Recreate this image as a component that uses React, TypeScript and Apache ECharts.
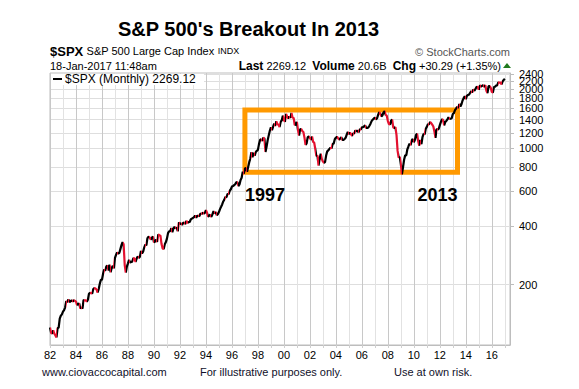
import React, { useEffect, useRef } from "react";
import * as echarts from "echarts";

const START_YEAR = 1982;

// Monthly closes of $SPX, Jan 1982 .. Jan 2017
const spxMonthlyCloses: number[] = [
  // 1982
  120.4, 113.11, 111.96, 116.44, 111.88, 109.61, 107.09, 119.51, 120.42, 133.71, 138.54, 140.64,
  // 1983
  145.3, 148.06, 152.96, 164.42, 162.39, 168.11, 162.56, 164.4, 166.07, 163.55, 166.4, 164.93,
  // 1984
  163.41, 157.06, 159.18, 160.05, 150.55, 153.18, 150.66, 166.68, 166.1, 166.09, 163.58, 167.24,
  // 1985
  179.63, 181.18, 180.66, 179.83, 189.55, 191.85, 190.92, 188.63, 182.08, 189.82, 202.17, 211.28,
  // 1986
  211.78, 226.92, 238.9, 235.52, 247.35, 250.84, 236.12, 252.93, 231.32, 243.98, 249.22, 242.17,
  // 1987
  274.08, 284.2, 291.7, 288.36, 290.1, 304.0, 318.66, 329.8, 321.83, 251.79, 230.3, 247.08,
  // 1988
  257.07, 267.82, 258.89, 261.33, 262.16, 273.5, 272.02, 261.52, 271.91, 278.97, 273.7, 277.72,
  // 1989
  297.47, 288.86, 294.87, 309.64, 320.52, 317.98, 346.08, 351.45, 349.15, 340.36, 345.99, 353.4,
  // 1990
  329.08, 331.89, 339.94, 330.8, 361.23, 358.02, 356.15, 322.56, 306.05, 304.0, 322.22, 330.22,
  // 1991
  343.93, 367.07, 375.22, 375.35, 389.83, 371.16, 387.81, 395.43, 387.86, 392.46, 375.22, 417.09,
  // 1992
  408.79, 412.7, 403.69, 414.95, 415.35, 408.14, 424.21, 414.03, 417.8, 418.68, 431.35, 435.71,
  // 1993
  438.78, 443.38, 451.67, 440.19, 450.19, 450.53, 448.13, 463.56, 458.93, 467.83, 461.79, 466.45,
  // 1994
  481.61, 467.14, 445.77, 450.91, 456.5, 444.27, 458.26, 475.49, 462.69, 472.35, 453.69, 459.27,
  // 1995
  470.42, 487.39, 500.71, 514.71, 533.4, 544.75, 562.06, 561.88, 584.41, 581.5, 605.37, 615.93,
  // 1996
  636.02, 640.43, 645.5, 654.17, 669.12, 670.63, 639.95, 651.99, 687.33, 705.27, 757.02, 740.74,
  // 1997
  786.16, 790.82, 757.12, 801.34, 848.28, 885.14, 954.29, 899.47, 947.28, 914.62, 955.4, 970.43,
  // 1998
  980.28, 1049.34, 1101.75, 1111.75, 1090.82, 1133.84, 1120.67, 957.28, 1017.01, 1098.67, 1163.63, 1229.23,
  // 1999
  1279.64, 1238.33, 1286.37, 1335.18, 1301.84, 1372.71, 1328.72, 1320.41, 1282.71, 1362.93, 1388.91, 1469.25,
  // 2000
  1394.46, 1366.42, 1498.58, 1452.43, 1420.6, 1454.6, 1430.83, 1517.68, 1436.51, 1429.4, 1314.95, 1320.28,
  // 2001
  1366.01, 1239.94, 1160.33, 1249.46, 1255.82, 1224.42, 1211.23, 1133.58, 1040.94, 1059.78, 1139.45, 1148.08,
  // 2002
  1130.2, 1106.73, 1147.39, 1076.92, 1067.14, 989.82, 911.62, 916.07, 815.28, 885.76, 936.31, 879.82,
  // 2003
  855.7, 841.15, 848.18, 916.92, 963.59, 974.5, 990.31, 1008.01, 995.97, 1050.71, 1058.2, 1111.92,
  // 2004
  1131.13, 1144.94, 1126.21, 1107.3, 1120.68, 1140.84, 1101.72, 1104.24, 1114.58, 1130.2, 1173.82, 1211.92,
  // 2005
  1181.27, 1203.6, 1180.59, 1156.85, 1191.5, 1191.33, 1234.18, 1220.33, 1228.81, 1207.01, 1249.48, 1248.29,
  // 2006
  1280.08, 1280.66, 1294.83, 1310.61, 1270.09, 1270.2, 1276.66, 1303.82, 1335.85, 1377.94, 1400.63, 1418.3,
  // 2007
  1438.24, 1406.82, 1420.86, 1482.37, 1530.62, 1503.35, 1455.27, 1473.99, 1526.75, 1549.38, 1481.14, 1468.36,
  // 2008
  1378.55, 1330.63, 1322.7, 1385.59, 1400.38, 1280.0, 1267.38, 1282.83, 1166.36, 968.75, 896.24, 903.25,
  // 2009
  825.88, 735.09, 797.87, 872.81, 919.14, 919.32, 987.48, 1020.62, 1057.08, 1036.19, 1095.63, 1115.1,
  // 2010
  1073.87, 1104.49, 1169.43, 1186.69, 1089.41, 1030.71, 1101.6, 1049.33, 1141.2, 1183.26, 1180.55, 1257.64,
  // 2011
  1286.12, 1327.22, 1325.83, 1363.61, 1345.2, 1320.64, 1292.28, 1218.89, 1131.42, 1253.3, 1246.96, 1257.6,
  // 2012
  1312.41, 1365.68, 1408.47, 1397.91, 1310.33, 1362.16, 1379.32, 1406.58, 1440.67, 1412.16, 1416.18, 1426.19,
  // 2013
  1498.11, 1514.68, 1569.19, 1597.57, 1630.74, 1606.28, 1685.73, 1632.97, 1681.55, 1756.54, 1805.81, 1848.36,
  // 2014
  1782.59, 1859.45, 1872.34, 1883.95, 1923.57, 1960.23, 1930.67, 2003.37, 1972.29, 2018.05, 2067.56, 2058.9,
  // 2015
  1994.99, 2104.5, 2067.89, 2085.51, 2107.39, 2063.11, 2103.84, 1972.18, 1920.03, 2079.36, 2080.41, 2043.94,
  // 2016
  1940.24, 1932.23, 2059.74, 2065.3, 2096.95, 2098.86, 2173.6, 2170.95, 2168.27, 2126.15, 2198.81, 2238.83,
  // 2017
  2269.12,
];

const yTickValues: number[] = [200, 400, 600, 800, 1000, 1200, 1400, 1600, 1800, 2000, 2200, 2400];
// the 2200 label is drawn by an overlay axis so that ECharts does not drop it
const yOverlayTickValues: number[] = [2200];
const yRange: number[] = [98, 2430];
const xRange: number[] = [1982, 2017.4];

// Trading-range box (years, index level)
const boxYears: number[] = [1997, 2013.36];
const boxLevels: number[] = [754, 1570];
const annotationLabels: string[] = ["1997", "2013"];
const annotationLevel = 578;

const quoteLast = "2269.12";
const quoteVolume = "20.6B";
const quoteChg = "+30.29 (+1.35%)";

const FONT = "Arial, 'Liberation Sans', Helvetica, sans-serif";

export default function App() {
  const ref = useRef<HTMLDivElement>(null);

  useEffect(() => {
    if (!ref.current) return;
    const chart = echarts.init(ref.current, null, { renderer: "svg" });

    const points = spxMonthlyCloses.map((v, i) => [START_YEAR + i / 12, Math.log(v)]);
    const pieces: any[] = [];
    for (let i = 1; i < spxMonthlyCloses.length; i++) {
      if (spxMonthlyCloses[i] < spxMonthlyCloses[i - 1]) {
        pieces.push({ gt: points[i - 1][0], lte: points[i][0], color: "#e3112f" });
      }
    }
    const lastClose = spxMonthlyCloses[spxMonthlyCloses.length - 1];
    const logTicks = yTickValues.map((v) => Math.log(v));
    const mainLabelTicks = yTickValues.filter((v) => !yOverlayTickValues.includes(v)).map((v) => Math.log(v));
    const overlayTicks = yOverlayTickValues.map((v) => Math.log(v));

    const yLabelBase = {
      color: "#000",
      fontSize: 11,
      fontFamily: FONT,
      margin: 9,
      showMaxLabel: true,
      showMinLabel: true,
      hideOverlap: false,
      formatter: (v: number) => String(Math.round(Math.exp(v) / 10) * 10),
    };

    const option: any = {
      animation: false,
      backgroundColor: "#fff",
      textStyle: { fontFamily: FONT },
      grid: {
        left: 50,
        right: 69,
        top: 73,
        bottom: 44,
        show: true,
        borderColor: "#bdbdbd",
        borderWidth: 1,
        backgroundColor: "transparent",
      },
      xAxis: {
        type: "value",
        min: xRange[0],
        max: xRange[1],
        interval: 1,
        axisLine: { show: true, lineStyle: { color: "#bdbdbd" } },
        axisTick: { show: true, length: 3, lineStyle: { color: "#cfcfcf" } },
        axisLabel: {
          color: "#000",
          fontSize: 11,
          fontFamily: FONT,
          margin: 4,
          showMaxLabel: false,
          formatter: (v: number) => (Math.round(v) % 2 === 0 ? String(Math.round(v) % 100).padStart(2, "0") : ""),
        },
        splitLine: { show: true, lineStyle: { color: ["#c8c8c8", "#e2e2e2"], width: 1 } },
      },
      yAxis: [
        {
          type: "value",
          position: "right",
          min: Math.log(yRange[0]),
          max: Math.log(yRange[1]),
          axisLine: { show: true, lineStyle: { color: "#bdbdbd" } },
          axisTick: { show: true, length: 4, customValues: logTicks, lineStyle: { color: "#bdbdbd" } },
          axisLabel: { ...yLabelBase, customValues: mainLabelTicks },
          splitLine: { show: true, lineStyle: { color: "#dedede" } },
        },
        {
          type: "value",
          position: "right",
          min: Math.log(yRange[0]),
          max: Math.log(yRange[1]),
          axisLine: { show: false },
          axisTick: { show: false, customValues: overlayTicks },
          axisLabel: { ...yLabelBase, customValues: overlayTicks },
          splitLine: { show: false },
        },
      ],
      visualMap: {
        show: false,
        type: "piecewise",
        dimension: 0,
        seriesIndex: 0,
        pieces,
        outOfRange: { color: "#000" },
      },
      series: [
        {
          type: "line",
          yAxisIndex: 0,
          data: points,
          showSymbol: false,
          symbol: "none",
          lineStyle: { width: 2.2 },
          silent: true,
          z: 3,
        },
        {
          type: "line",
          yAxisIndex: 0,
          data: [],
          silent: true,
          z: 4,
          markArea: {
            silent: true,
            itemStyle: { color: "rgba(0,0,0,0)", borderColor: "#ff9900", borderWidth: 5 },
            data: [
              [
                { coord: [boxYears[0], Math.log(boxLevels[0])] },
                { coord: [boxYears[1], Math.log(boxLevels[1])] },
              ],
            ],
          },
          markPoint: {
            silent: true,
            symbol: "rect",
            symbolSize: 0,
            itemStyle: { color: "rgba(0,0,0,0)" },
            data: [
              {
                coord: [boxYears[0], Math.log(annotationLevel)],
                label: {
                  show: true,
                  position: "inside",
                  formatter: annotationLabels[0],
                  align: "left",
                  verticalAlign: "middle",
                  color: "#000",
                  fontSize: 18,
                  fontWeight: "bold",
                  fontFamily: FONT,
                },
              },
              {
                coord: [boxYears[1], Math.log(annotationLevel)],
                label: {
                  show: true,
                  position: "inside",
                  formatter: annotationLabels[1],
                  align: "right",
                  verticalAlign: "middle",
                  color: "#000",
                  fontSize: 18,
                  fontWeight: "bold",
                  fontFamily: FONT,
                },
              },
            ],
          },
        },
      ],
      graphic: [
        {
          type: "text",
          left: 118,
          top: 19,
          style: { text: "S&P 500's Breakout In 2013", fontSize: 20, fontWeight: "bold", fill: "#000", font: `bold 20px ${FONT}` },
        },
        {
          type: "text",
          x: 50,
          y: 51,
          style: {
            text: "{a|$SPX} {b|S&P 500 Large Cap Index} {c|INDX}",
            textVerticalAlign: "middle",
            rich: {
              a: { fontSize: 13, fontWeight: "bold", fill: "#000", fontFamily: FONT },
              b: { fontSize: 11, fill: "#000", fontFamily: FONT },
              c: { fontSize: 9, fill: "#000", fontFamily: FONT },
            },
          },
        },
        {
          type: "text",
          x: 510,
          y: 52,
          style: { text: "© StockCharts.com", fill: "#555", fontSize: 11, fontFamily: FONT, textAlign: "right", textVerticalAlign: "middle" },
        },
        {
          type: "text",
          x: 50,
          y: 66,
          style: { text: "18-Jan-2017 11:48am", fill: "#000", fontSize: 11, fontFamily: FONT, textVerticalAlign: "middle" },
        },
        {
          type: "text",
          x: 501,
          y: 66,
          style: {
            text: `{k|Last} ${quoteLast}  {k|Volume} ${quoteVolume}  {k|Chg} ${quoteChg}`,
            fontSize: 11,
            fontFamily: FONT,
            fill: "#000",
            textAlign: "right",
            textVerticalAlign: "middle",
            rich: { k: { fontSize: 12, fontWeight: "bold", fill: "#000", fontFamily: FONT } },
          },
        },
        {
          type: "polygon",
          shape: { points: [[503, 68], [511, 68], [507, 63]] },
          style: { fill: "#1f7a1f" },
        },
        {
          type: "rect",
          shape: { x: 51, y: 74, width: 153, height: 11 },
          style: { fill: "#fff" },
          z: 10,
        },
        {
          type: "line",
          shape: { x1: 53, y1: 79, x2: 62, y2: 79 },
          style: { stroke: "#000", lineWidth: 2 },
          z: 11,
        },
        {
          type: "text",
          x: 65,
          y: 79,
          z: 11,
          style: { text: `$SPX (Monthly) ${lastClose.toFixed(2)}`, fill: "#000", fontSize: 12, fontFamily: FONT, textVerticalAlign: "middle" },
        },
        {
          type: "text",
          x: 42,
          y: 372,
          style: { text: "www.ciovaccocapital.com", fill: "#10102a", fontSize: 11, fontFamily: FONT, textVerticalAlign: "middle" },
        },
        {
          type: "text",
          x: 200,
          y: 372,
          style: { text: "For illustrative purposes only.", fill: "#10102a", fontSize: 11, fontFamily: FONT, textVerticalAlign: "middle" },
        },
        {
          type: "text",
          x: 394,
          y: 372,
          style: { text: "Use at own risk.", fill: "#10102a", fontSize: 11, fontFamily: FONT, textVerticalAlign: "middle" },
        },
      ],
    };

    chart.setOption(option);
    return () => chart.dispose();
  }, []);

  return <div ref={ref} style={{ width: 579, height: 389, position: "absolute", left: 0, top: 0 }} />;
}
